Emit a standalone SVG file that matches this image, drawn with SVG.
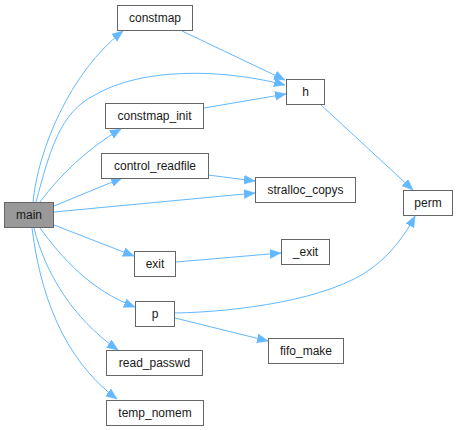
<svg xmlns="http://www.w3.org/2000/svg" width="458" height="430" viewBox="0 0 458 430">
<style>
.node rect{fill:#ffffff;stroke:#666666;stroke-width:1}
.node.main rect{fill:#999999}
.node text{font-family:"Liberation Sans",Arial,sans-serif;font-size:12px;fill:#1a1a1a;text-anchor:middle}
.edges path{fill:none;stroke:#63b8ff;stroke-width:1}
</style>
<defs>
<marker id="arr" markerUnits="userSpaceOnUse" markerWidth="13" markerHeight="10" refX="11" refY="4.5" orient="auto">
<path d="M0,0 L11,4.5 L0,9 z" fill="#63b8ff" stroke="#63b8ff" stroke-width="0.5"/>
</marker>
</defs>
<rect width="458" height="430" fill="#ffffff"/>
<g class="edges">
<path d="M33,202 C38,150 70,72 123,31" marker-end="url(#arr)"/>
<path d="M36,202 C50,150 60,112 95,95 C140,68 220,68 285,85" marker-end="url(#arr)"/>
<path d="M40,202 C60,175 88,148 121,129" marker-end="url(#arr)"/>
<path d="M54,206 L122,178" marker-end="url(#arr)"/>
<path d="M54,212 L255,193" marker-end="url(#arr)"/>
<path d="M208,175 L255,181" marker-end="url(#arr)"/>
<path d="M182,31 L285,80" marker-end="url(#arr)"/>
<path d="M204,108 L286,94" marker-end="url(#arr)"/>
<path d="M320,104 L413,190" marker-end="url(#arr)"/>
<path d="M54,225 L134,256" marker-end="url(#arr)"/>
<path d="M176,262 L281,253" marker-end="url(#arr)"/>
<path d="M40,228 C62,258 90,290 135,307" marker-end="url(#arr)"/>
<path d="M175,313 C235,312 330,300 372,268 C392,253 405,235 415,216" marker-end="url(#arr)"/>
<path d="M175,318 L268,341" marker-end="url(#arr)"/>
<path d="M34,228 C45,272 72,318 118,350" marker-end="url(#arr)"/>
<path d="M32,228 C40,292 62,358 117,399" marker-end="url(#arr)"/>
</g>
<g id="node-main" class="node main"><rect x="4.5" y="202.5" width="49" height="25"/><text x="29" y="219">main</text></g>
<g id="node-constmap" class="node"><rect x="117.5" y="5.5" width="75" height="25"/><text x="155" y="22">constmap</text></g>
<g id="node-h" class="node"><rect x="286.5" y="79.5" width="38" height="25"/><text x="305.5" y="96">h</text></g>
<g id="node-constmap_init" class="node"><rect x="105.5" y="103.5" width="98" height="25"/><text x="154.5" y="120">constmap_init</text></g>
<g id="node-control_readfile" class="node"><rect x="101.5" y="153.5" width="107" height="25"/><text x="155" y="170">control_readfile</text></g>
<g id="node-stralloc_copys" class="node"><rect x="255.5" y="177.5" width="100" height="25"/><text x="305.5" y="194">stralloc_copys</text></g>
<g id="node-perm" class="node"><rect x="403.5" y="190.5" width="49" height="25"/><text x="428" y="207">perm</text></g>
<g id="node-exit" class="node"><rect x="134.5" y="251.5" width="41" height="25"/><text x="155" y="268">exit</text></g>
<g id="node-_exit" class="node"><rect x="281.5" y="239.5" width="48" height="25"/><text x="305.5" y="256">_exit</text></g>
<g id="node-p" class="node"><rect x="135.5" y="301.5" width="39" height="25"/><text x="155" y="318">p</text></g>
<g id="node-fifo_make" class="node"><rect x="268.5" y="338.5" width="75" height="25"/><text x="306" y="355">fifo_make</text></g>
<g id="node-read_passwd" class="node"><rect x="106.5" y="350.5" width="96" height="25"/><text x="154.5" y="367">read_passwd</text></g>
<g id="node-temp_nomem" class="node"><rect x="106.5" y="400.5" width="97" height="25"/><text x="155" y="417">temp_nomem</text></g>
</svg>
